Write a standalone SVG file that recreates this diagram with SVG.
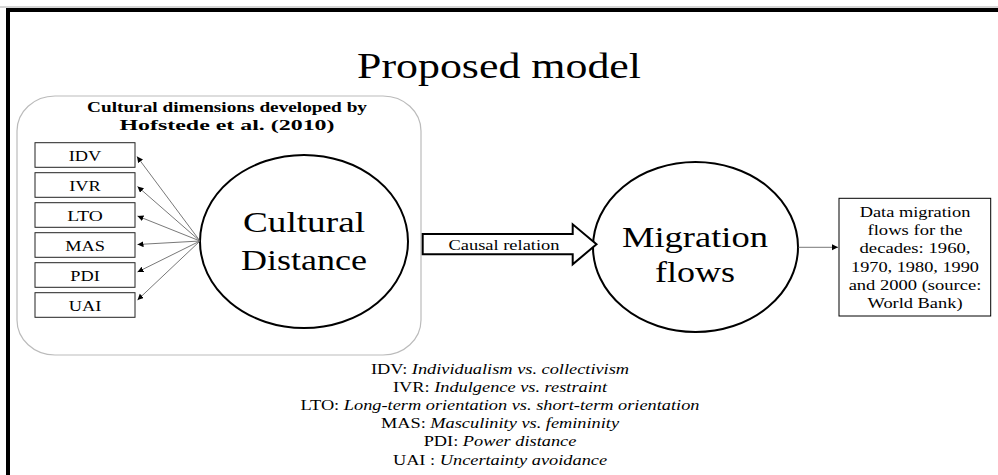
<svg xmlns="http://www.w3.org/2000/svg" width="998" height="475" viewBox="0 0 998 475">
<style>
text{font-family:"Liberation Serif","Times New Roman",serif;fill:#000}
.big{font-size:29px;text-anchor:middle}
.sm{font-size:14px;text-anchor:middle}
.hd{font-size:14px;font-weight:bold;text-anchor:middle}
.dim{fill:#fff;stroke:#222;stroke-width:1}
.ell{fill:#fff;stroke:#000;stroke-width:2}
.thin{stroke:#555;stroke-width:0.8;fill:none}
.it{font-style:italic}
</style>
<defs>
<marker id="ah" markerUnits="userSpaceOnUse" markerWidth="8" markerHeight="8" refX="6" refY="3" orient="auto">
<path d="M0,0 L6,3 L0,6 Z" fill="#000"/>
</marker>
</defs>
<rect x="0" y="0" width="998" height="475" fill="#fff"/>
<line x1="0" y1="7" x2="998" y2="7" stroke="#aaa" stroke-width="1"/>
<rect x="8" y="10" width="1100" height="600" fill="none" stroke="#000" stroke-width="4"/>

<g id="title"><text x="499" y="78" font-size="36" text-anchor="middle" textLength="284" lengthAdjust="spacingAndGlyphs">Proposed model</text></g>

<g id="container">
<rect x="17" y="96" width="404" height="259" rx="38" ry="35" fill="none" stroke="#bbb" stroke-width="1.2"/>
<text class="hd" x="227" y="111.5" textLength="280" lengthAdjust="spacingAndGlyphs">Cultural dimensions developed by</text>
<text class="hd" x="227" y="129.5" textLength="215" lengthAdjust="spacingAndGlyphs">Hofstede et al. (2010)</text>
</g>

<g id="IDV"><rect class="dim" x="35" y="142.7" width="100" height="24.6"/><text class="sm" x="85" y="160.7" textLength="32.6" lengthAdjust="spacingAndGlyphs">IDV</text></g>
<g id="IVR"><rect class="dim" x="35" y="172.7" width="100" height="24.6"/><text class="sm" x="85" y="190.7" textLength="31.6" lengthAdjust="spacingAndGlyphs">IVR</text></g>
<g id="LTO"><rect class="dim" x="35" y="202.7" width="100" height="24.6"/><text class="sm" x="85" y="220.7" textLength="35.7" lengthAdjust="spacingAndGlyphs">LTO</text></g>
<g id="MAS"><rect class="dim" x="35" y="232.7" width="100" height="24.6"/><text class="sm" x="85" y="250.7" textLength="39.7" lengthAdjust="spacingAndGlyphs">MAS</text></g>
<g id="PDI"><rect class="dim" x="35" y="262.7" width="100" height="24.6"/><text class="sm" x="85" y="280.7" textLength="29.5" lengthAdjust="spacingAndGlyphs">PDI</text></g>
<g id="UAI"><rect class="dim" x="35" y="292.7" width="100" height="24.6"/><text class="sm" x="85" y="310.7" textLength="32.6" lengthAdjust="spacingAndGlyphs">UAI</text></g>

<g id="cultural-distance">
<ellipse class="ell" cx="304" cy="241.5" rx="104" ry="86.5"/>
<text class="big" x="304" y="232" textLength="122" lengthAdjust="spacingAndGlyphs">Cultural</text>
<text class="big" x="304" y="270" textLength="126" lengthAdjust="spacingAndGlyphs">Distance</text>
</g>

<g id="migration-flows">
<ellipse class="ell" cx="695.5" cy="247" rx="102.5" ry="85"/>
<text class="big" x="695" y="246.5" textLength="146" lengthAdjust="spacingAndGlyphs">Migration</text>
<text class="big" x="695" y="282" textLength="80" lengthAdjust="spacingAndGlyphs">flows</text>
</g>

<g id="data">
<rect x="839" y="198.3" width="151.7" height="117.7" fill="#fff" stroke="#000" stroke-width="1"/>
<text class="sm" x="915" y="216.7" textLength="110.7" lengthAdjust="spacingAndGlyphs">Data migration</text>
<text class="sm" x="915" y="235" textLength="95" lengthAdjust="spacingAndGlyphs">flows for the</text>
<text class="sm" x="915" y="253.3" textLength="111" lengthAdjust="spacingAndGlyphs">decades: 1960,</text>
<text class="sm" x="915" y="271.7" textLength="128" lengthAdjust="spacingAndGlyphs">1970, 1980, 1990</text>
<text class="sm" x="915" y="290" textLength="132.7" lengthAdjust="spacingAndGlyphs">and 2000 (source:</text>
<text class="sm" x="915" y="308.3" textLength="95" lengthAdjust="spacingAndGlyphs">World Bank)</text>
</g>

<g id="connectors">
<line class="thin" x1="200" y1="241" x2="137" y2="156.5" marker-end="url(#ah)"/>
<line class="thin" x1="200" y1="241" x2="137.5" y2="186.5" marker-end="url(#ah)"/>
<line class="thin" x1="200" y1="241" x2="137.5" y2="216" marker-end="url(#ah)"/>
<line class="thin" x1="200" y1="241" x2="137.5" y2="244.5" marker-end="url(#ah)"/>
<line class="thin" x1="200" y1="241" x2="137.5" y2="272" marker-end="url(#ah)"/>
<line class="thin" x1="200" y1="241" x2="137.5" y2="300" marker-end="url(#ah)"/>
<g id="causal">
<polygon points="422.7,234 572.7,234 572.7,224.3 596.5,244.3 572.7,264.3 572.7,254.3 422.7,254.3" fill="#fff" stroke="#000" stroke-width="2" stroke-linejoin="miter"/>
<text class="sm" x="504" y="249.5" textLength="111" lengthAdjust="spacingAndGlyphs">Causal relation</text>
</g>
<line class="thin" x1="798" y1="247.3" x2="838" y2="247.3" marker-end="url(#ah)"/>
</g>

<g id="legend" font-size="14" text-anchor="middle">
<text transform="translate(500,373.5) scale(1.31,1)" x="0" y="0">IDV: <tspan class="it">Individualism vs. collectivism</tspan></text>
<text transform="translate(500,391.7) scale(1.31,1)" x="0" y="0">IVR: <tspan class="it">Indulgence vs. restraint</tspan></text>
<text transform="translate(500,410) scale(1.31,1)" x="0" y="0">LTO: <tspan class="it">Long-term orientation vs. short-term orientation</tspan></text>
<text transform="translate(500,428.3) scale(1.31,1)" x="0" y="0">MAS: <tspan class="it">Masculinity vs. femininity</tspan></text>
<text transform="translate(500,446.3) scale(1.31,1)" x="0" y="0">PDI: <tspan class="it">Power distance</tspan></text>
<text transform="translate(500,464.5) scale(1.31,1)" x="0" y="0">UAI : <tspan class="it">Uncertainty avoidance</tspan></text>
</g>
</svg>
